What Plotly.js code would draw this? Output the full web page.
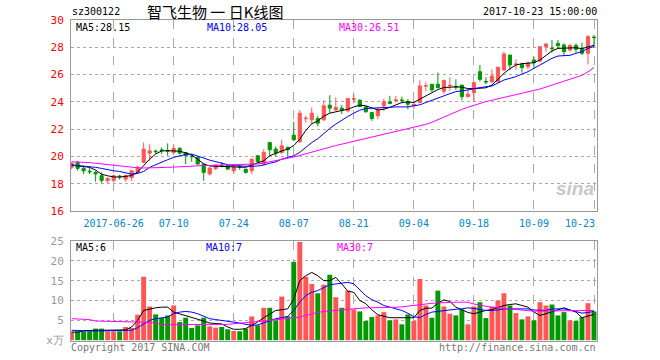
<!DOCTYPE html>
<html><head><meta charset="utf-8">
<script src="https://cdn.plot.ly/plotly-3.0.1.min.js"></script>
<style>body{margin:0;background:#fff}#c{width:660px;height:360px}</style>
</head><body><div id="c"></div><script>
const dates = ['2017-06-15','2017-06-16','2017-06-19','2017-06-20','2017-06-21','2017-06-22','2017-06-23','2017-06-26','2017-06-27','2017-06-28','2017-06-29','2017-06-30',
'2017-07-03','2017-07-04','2017-07-05','2017-07-06','2017-07-07','2017-07-10','2017-07-11','2017-07-12','2017-07-13','2017-07-14','2017-07-17','2017-07-18','2017-07-19','2017-07-20','2017-07-21','2017-07-24','2017-07-25','2017-07-26','2017-07-27','2017-07-28','2017-07-31',
'2017-08-01','2017-08-02','2017-08-03','2017-08-04','2017-08-07','2017-08-08','2017-08-09','2017-08-10','2017-08-11','2017-08-14','2017-08-15','2017-08-16','2017-08-17','2017-08-18','2017-08-21','2017-08-22','2017-08-23','2017-08-24','2017-08-25','2017-08-28','2017-08-29','2017-08-30','2017-08-31',
'2017-09-01','2017-09-04','2017-09-05','2017-09-06','2017-09-07','2017-09-08','2017-09-11','2017-09-12','2017-09-13','2017-09-14','2017-09-15','2017-09-18','2017-09-19','2017-09-20','2017-09-21','2017-09-22','2017-09-25','2017-09-26','2017-09-27','2017-09-28','2017-09-29',
'2017-10-09','2017-10-10','2017-10-11','2017-10-12','2017-10-13','2017-10-16','2017-10-17','2017-10-18','2017-10-19','2017-10-20','2017-10-23'];

const open  = [19.20,19.56,19.12,18.92,18.83,18.59,18.22,18.22,18.56,18.34,18.46,18.83,19.56,20.24,20.39,20.48,20.43,20.29,20.58,20.29,20.02,19.93,19.44,18.71,19.12,19.34,19.32,18.95,19.26,19.07,18.95,20.05,19.44,21.02,20.54,20.29,20.66,21.56,21.07,22.76,22.68,22.78,22.68,23.76,23.41,23.54,23.34,24.18,24.12,23.63,23.22,22.98,23.71,24.00,24.10,24.14,24.02,23.71,23.95,25.15,25.29,25.29,24.78,25.17,25.13,25.23,24.38,24.67,26.21,25.50,25.48,25.48,26.33,27.43,26.73,26.75,26.58,27.07,26.99,28.04,27.94,28.29,28.17,27.80,28.14,27.85,27.56,28.75];
const high  = [19.56,19.68,19.32,19.20,18.95,18.83,18.46,18.65,18.65,18.68,19.00,19.32,21.02,20.90,20.50,20.66,20.95,20.90,20.70,20.30,20.17,20.00,19.44,19.20,19.40,19.60,19.35,19.32,19.44,19.07,19.85,20.10,20.54,21.02,20.73,21.22,20.73,22.54,23.39,22.98,23.59,22.98,24.12,24.49,24.32,23.76,24.24,24.56,24.20,23.71,23.22,23.59,24.24,24.44,24.44,24.39,24.20,23.85,25.59,25.46,25.29,26.15,25.64,25.80,25.65,25.23,24.87,25.48,26.70,25.80,26.38,26.58,27.68,27.43,27.12,26.87,26.95,27.31,28.09,28.29,28.53,28.53,28.29,28.24,28.29,28.34,28.90,28.90];
const low   = [19.07,18.95,18.71,18.71,18.15,18.05,18.05,18.15,18.30,18.15,18.20,18.71,19.51,19.68,20.20,20.17,20.05,20.17,20.15,19.44,19.61,19.40,18.22,18.60,19.00,19.20,19.00,18.71,19.02,18.75,18.71,19.50,19.37,20.05,20.00,20.17,20.00,21.15,21.02,22.49,22.37,22.20,22.61,23.17,23.34,23.10,23.22,23.88,23.60,23.22,22.61,22.73,23.34,23.83,23.95,23.90,23.46,23.46,23.90,24.80,24.73,24.98,24.56,24.82,24.87,24.13,24.33,24.01,25.48,25.28,25.36,25.36,26.29,26.33,26.33,26.14,26.38,26.46,26.95,27.68,27.61,27.92,27.36,27.68,27.61,27.43,26.75,28.04];
const close = [19.51,19.12,18.95,18.88,18.71,18.24,18.39,18.59,18.52,18.59,18.95,19.20,20.54,20.41,20.35,20.44,20.39,20.58,20.24,20.05,19.98,19.44,18.83,19.15,19.37,19.30,19.07,19.20,19.22,18.83,19.80,19.61,20.29,20.49,20.24,20.78,20.49,21.22,23.17,22.80,23.17,22.44,23.71,23.54,23.59,23.39,24.24,24.22,23.66,23.27,22.78,23.39,24.00,23.88,24.14,24.10,23.83,23.83,25.17,25.19,24.88,25.05,25.56,25.21,25.09,24.38,24.57,25.41,25.65,25.46,25.89,26.53,27.51,26.70,26.77,26.51,26.82,26.87,28.04,28.24,27.90,28.12,27.68,28.14,27.85,27.56,28.78,28.71];

const ma5  = [19.37,19.30,19.25,19.20,19.00,18.70,18.58,18.50,18.48,18.52,18.60,18.85,19.35,19.80,20.18,20.40,20.42,20.42,20.38,20.26,20.10,19.80,19.45,19.30,19.28,19.26,19.24,19.22,19.22,19.20,19.37,19.50,19.68,20.05,20.24,20.40,20.54,20.80,21.26,21.90,22.40,22.60,22.95,23.17,23.27,23.34,23.46,23.63,23.76,23.71,23.54,23.41,23.46,23.59,23.78,23.95,24.00,23.95,24.20,24.45,24.68,24.90,25.05,25.10,25.10,25.08,24.97,24.97,25.01,25.03,25.23,25.65,26.09,26.43,26.70,26.80,26.82,26.87,27.07,27.43,27.73,27.92,27.95,27.97,27.97,27.90,28.00,28.15];
const ma10 = [19.37,19.33,19.30,19.25,19.20,19.12,19.02,18.95,18.90,18.80,18.70,18.75,18.90,19.20,19.40,19.56,19.76,19.93,20.05,20.15,20.17,20.05,19.88,19.73,19.60,19.51,19.39,19.32,19.29,19.27,19.27,19.30,19.37,19.50,19.60,19.80,19.93,20.05,20.30,20.66,21.02,21.30,21.70,22.05,22.37,22.68,22.93,23.17,23.39,23.51,23.54,23.54,23.59,23.59,23.63,23.63,23.63,23.71,23.78,23.95,24.12,24.30,24.48,24.60,24.75,24.80,24.87,24.97,25.06,25.11,25.16,25.36,25.60,25.72,25.85,26.04,26.21,26.46,26.70,26.95,27.19,27.36,27.38,27.41,27.56,27.68,27.92,28.05];
const ma30 = [19.61,19.60,19.58,19.55,19.50,19.45,19.40,19.34,19.28,19.24,19.20,19.17,19.15,19.15,19.16,19.18,19.20,19.22,19.25,19.28,19.30,19.32,19.33,19.34,19.35,19.36,19.37,19.37,19.37,19.38,19.40,19.45,19.52,19.60,19.68,19.77,19.86,19.96,20.07,20.20,20.32,20.44,20.56,20.68,20.80,20.90,21.00,21.10,21.20,21.30,21.40,21.50,21.60,21.70,21.80,21.90,22.00,22.10,22.22,22.35,22.50,22.70,22.90,23.10,23.30,23.45,23.60,23.75,23.90,24.02,24.12,24.22,24.32,24.42,24.52,24.62,24.72,24.82,24.94,25.08,25.22,25.35,25.50,25.65,25.80,25.95,26.20,26.51];

const volume = [2.08,2.25,2.25,2.25,2.92,2.92,2.25,2.25,2.25,3.33,3.08,6.42,16.0,8.5,6.5,5.58,6.25,8.75,4.58,5.67,3.08,3.75,5.67,3.5,3.17,3.33,2.75,2.33,2.25,2.92,6.0,3.75,8.17,8.17,5.0,11.0,6.0,19.75,24.75,16.0,14.17,11.83,14.0,16.5,10.83,8.17,12.5,7.75,7.25,4.83,5.83,6.25,7.08,5.0,5.25,4.0,6.5,4.83,15.42,8.75,5.67,12.5,8.5,6.67,6.25,7.75,4.0,8.5,9.58,5.58,8.5,10.0,11.83,8.75,6.83,5.25,6.0,5.0,9.58,8.75,9.0,6.25,7.08,5.0,4.83,5.83,9.33,7.25];
const vma5  = [2.08,2.0,2.4,2.5,2.5,2.5,2.5,2.5,2.5,2.6,3.33,5.0,7.5,7.9,8.17,8.33,8.33,7.08,6.67,6.25,5.83,5.42,4.83,4.33,4.17,4.1,3.33,2.75,2.75,2.92,3.75,4.58,5.67,6.67,7.5,7.67,7.92,10.4,15.0,16.25,17.08,16.25,15.0,15.0,15.83,14.17,12.33,12.08,10.0,9.2,7.67,6.42,6.0,5.67,5.67,5.58,5.67,5.67,7.5,8.08,8.08,9.33,10.17,9.75,8.33,7.67,7.0,6.67,7.08,7.5,7.67,8.17,8.75,9.0,9.17,8.75,8.33,7.08,6.25,6.67,7.08,7.67,8.17,7.67,7.08,5.67,6.0,6.5];
const vma10 = [2.5,2.4,2.33,2.33,2.33,2.33,2.33,2.33,2.33,2.33,2.5,3.17,4.17,5.0,5.42,5.67,5.83,6.67,7.08,7.25,7.08,6.67,6.0,5.42,5.2,5.0,4.9,4.58,4.33,4.0,3.75,3.85,4.33,4.83,5.42,5.67,6.0,7.5,9.58,11.25,12.08,12.5,13.33,14.0,14.17,14.33,14.58,14.2,12.8,11.2,10.2,9.58,8.75,8.3,7.9,7.5,6.8,5.9,5.7,6.5,7.08,7.3,7.5,7.6,7.8,7.9,8.17,8.0,7.7,7.5,7.55,7.6,7.9,7.9,7.9,7.9,7.9,7.6,7.5,7.5,7.9,7.9,7.9,7.6,7.2,6.83,7.0,7.25];
const vma30 = [5.42,5.4,5.3,5.2,4.83,4.8,4.75,4.7,4.58,4.58,4.58,4.58,4.58,4.5,4.33,3.92,3.92,3.92,3.95,3.95,4.0,4.0,4.0,4.0,4.0,4.0,4.0,4.15,4.33,4.45,4.58,4.7,4.83,5.0,5.1,5.25,5.42,5.6,5.83,6.25,6.67,7.0,7.25,7.4,7.5,7.6,7.75,8.0,8.17,8.17,8.17,8.17,8.2,8.25,8.3,8.4,8.6,8.75,8.9,9.17,9.3,9.4,9.5,9.58,9.58,9.58,9.58,9.1,8.8,8.5,8.3,8.17,8.0,7.8,7.67,7.55,7.45,7.33,7.35,7.4,7.45,7.4,7.33,7.4,7.45,7.5,7.5,7.5];

const tickDates  = ['2017-06-26','2017-07-10','2017-07-24','2017-08-07','2017-08-21','2017-09-04','2017-09-18','2017-10-09','2017-10-23'];
const tickLabels = ['2017-06-26','07-10','07-24','08-07','08-21','09-04','09-18','10-09','10-23'];
const priceTicks = [16,18,20,22,24,26,28,30];
const volTicks = [0,5,10,15,20,25];
const volTickLabels = ['x万','5','10','15','20','25'];
const maLabels = ['MA5:28.15','MA10:28.05','MA30:26.51'];
const volMaLabels = ['MA5:6','MA10:7','MA30:7'];

const RED='#ff5555', GREEN='#009900';
const MONO='DejaVu Sans Mono, monospace';
const volColors = close.map((c,i)=> c>=open[i] ? RED : GREEN);

const L=71, R=597, T=20, B=341;
const W=R-L, H=B-T;
const px = x => (x-L)/W;
const py = y => (B-y)/H;

const traces = [
  {type:'candlestick', x:dates, open:open, high:high, low:low, close:close, xaxis:'x', yaxis:'y',
   increasing:{line:{color:RED,width:1}, fillcolor:RED},
   decreasing:{line:{color:GREEN,width:1}, fillcolor:GREEN},
   whiskerwidth:0, hoverinfo:'skip', showlegend:false},
  {type:'scatter', mode:'lines', x:dates, y:ma5, line:{color:'#000000',width:1}, xaxis:'x', yaxis:'y', showlegend:false, hoverinfo:'skip'},
  {type:'scatter', mode:'lines', x:dates, y:ma10, line:{color:'#0000ff',width:1}, xaxis:'x', yaxis:'y', showlegend:false, hoverinfo:'skip'},
  {type:'scatter', mode:'lines', x:dates, y:ma30, line:{color:'#ff00ff',width:1}, xaxis:'x', yaxis:'y', showlegend:false, hoverinfo:'skip'},
  {type:'bar', x:dates, y:volume, marker:{color:volColors, line:{width:0}}, xaxis:'x2', yaxis:'y2', showlegend:false, hoverinfo:'skip'},
  {type:'scatter', mode:'lines', x:dates, y:vma5, line:{color:'#000000',width:1}, xaxis:'x2', yaxis:'y2', showlegend:false, hoverinfo:'skip'},
  {type:'scatter', mode:'lines', x:dates, y:vma10, line:{color:'#0000ff',width:1}, xaxis:'x2', yaxis:'y2', showlegend:false, hoverinfo:'skip'},
  {type:'scatter', mode:'lines', x:dates, y:vma30, line:{color:'#ff00ff',width:1}, xaxis:'x2', yaxis:'y2', showlegend:false, hoverinfo:'skip'}
];

// last tick label is drawn shifted left to stay inside the frame (as in the original)
const shownTickLabels = tickLabels.map((t,i)=> i===tickLabels.length-1 ? '' : t);

const xrange = [-0.1, 87.5];
const xcommon = {type:'category', range:xrange, showline:true, mirror:true, linecolor:'#999999', linewidth:1,
  showgrid:true, gridcolor:'#aaaaaa', griddash:'dash', gridwidth:1, zeroline:false,
  tickvals:tickDates, ticktext:shownTickLabels, ticks:'', rangeslider:{visible:false}, fixedrange:true};

const ann = (text,x,y,color,anchor,size,font) => ({text:text, x:px(x), y:py(y), xref:'paper', yref:'paper',
  xanchor:anchor||'left', yanchor:'middle', showarrow:false, font:{family:font||MONO, size:size||10, color:color}});

const layout = {
  width:660, height:360, paper_bgcolor:'#ffffff', plot_bgcolor:'#ffffff',
  margin:{l:L, r:660-R, t:T, b:360-B}, showlegend:false, boxgap:0.25, bargap:0.18,
  xaxis: Object.assign({}, xcommon, {domain:[0,1], anchor:'y', showticklabels:true, ticklabelstandoff:3,
    tickfont:{family:MONO, size:10, color:'#0085d0'}}),
  xaxis2: Object.assign({}, xcommon, {domain:[0,1], anchor:'y2', showticklabels:false, matches:'x'}),
  yaxis: {domain:[py(211),1], range:[16,30], tickvals:priceTicks, showline:true, mirror:true, linecolor:'#999999',
    showgrid:true, gridcolor:'#aaaaaa', griddash:'dot', zeroline:false, ticks:'', ticklabelstandoff:4,
    tickfont:{family:MONO, size:11, color:'#ff0000'}, fixedrange:true},
  yaxis2: {domain:[0,py(241)], range:[-0.2,25], tickvals:volTicks, ticktext:volTickLabels, showline:true, mirror:true,
    linecolor:'#999999', showgrid:true, gridcolor:'#aaaaaa', griddash:'dot', zeroline:false, ticks:'', ticklabelstandoff:4,
    tickfont:{family:MONO, size:11, color:'#999999'}, fixedrange:true},
  annotations: [
    ann('sz300122', 70, 11, '#000000'),
    ann('智飞生物 一 日K线图', 215, 11, '#000000', 'center', 15, 'Noto Sans CJK SC'),
    ann('2017-10-23 15:00:00', 599, 11, '#000000', 'right'),
    ann(maLabels[0], 74, 27, '#000000'),
    ann(maLabels[1], 205, 27, '#0000ff'),
    ann(maLabels[2], 337, 27, '#ff00ff'),
    ann(tickLabels[tickLabels.length-1], 580, 223, '#0085d0', 'center'),
    ann(volMaLabels[0], 74, 247, '#000000'),
    ann(volMaLabels[1], 204, 247, '#0000ff'),
    ann(volMaLabels[2], 335, 247, '#ff00ff'),
    ann('Copyright 2017 SINA.COM', 69, 347, '#777777'),
    ann('http://finance.sina.com.cn', 598, 347, '#777777', 'right'),
    {text:'<b><i>sina</i></b>', x:px(596), y:py(188), xref:'paper', yref:'paper', xanchor:'right', yanchor:'middle',
     showarrow:false, font:{family:'Liberation Sans, sans-serif', size:19, color:'#c8c8c8'}}
  ]
};

Plotly.newPlot('c', traces, layout, {staticPlot:true, displayModeBar:false});
</script></body></html>
